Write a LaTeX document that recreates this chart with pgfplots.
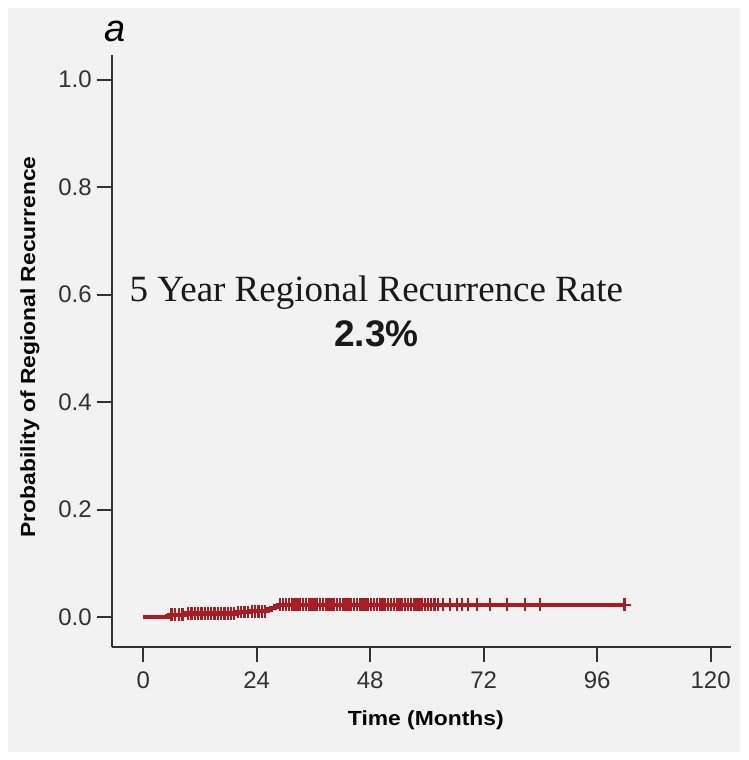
\documentclass[border=0pt]{standalone}
\usepackage{pgfplots}
\pgfplotsset{compat=1.18}
\usepackage{fontspec}
\usepackage{graphicx}
\setmainfont{Liberation Serif}
\setsansfont{Liberation Sans}
\definecolor{panel}{RGB}{242,242,242}
\definecolor{kmred}{RGB}{168,28,34}
\definecolor{axgray}{RGB}{50,50,50}
\begin{document}
\begin{tikzpicture}
\path[use as bounding box, fill=white] (-84pt,-84.75pt) rectangle (477.75pt,485.25pt);
\fill[panel] (-78pt,-78.75pt) rectangle (471pt,479.25pt);
\begin{axis}[
  scale only axis,
  width=464.25pt, height=444pt,
  xmin=-6.6, xmax=124.3,
  ymin=-0.0556, ymax=1.046,
  axis x line=bottom, axis y line=left,
  axis line style={-, axgray, line width=1.3pt},
  tick style={axgray, line width=1.3pt},
  tick align=outside,
  major tick length=11.25pt,
  xtick={0,24,48,72,96,120},
  ytick={0,0.2,0.4,0.6,0.8,1.0},
  yticklabel style={/pgf/number format/fixed, /pgf/number format/fixed zerofill, /pgf/number format/precision=1},
  /pgf/number format/assume math mode=true,
  ticklabel style={font=\sffamily\fontsize{18}{20}\selectfont, text=axgray, inner sep=0pt},
  xticklabel shift=7pt,
  yticklabel shift=3.75pt,
  xlabel={\scalebox{1.12}[1]{Time (Months)}},
  ylabel={\scalebox{1.12}[1]{Probability of Regional Recurrence}},
  label style={font=\sffamily\bfseries\fontsize{15.3}{17}\selectfont},
  xlabel style={at={(axis description cs:0.507,-0.1334)}, anchor=base},
  ylabel style={at={(axis description cs:-0.1325,0.507)}, anchor=center, rotate=0},
  clip=false,
]
\addplot[const plot, kmred, line width=3.2pt] coordinates {
 (0,0) (5.5,0.0045) (9.0,0.0065) (19.5,0.0095) (22.5,0.011) (26.3,0.014)
 (27.0,0.017) (27.8,0.020) (28.6,0.023) (102.0,0.023)
};
\addplot[only marks, mark=+, mark size=4.8pt, kmred, mark options={line width=1.7pt}] coordinates {
 (6.0,0.0045) (6.8,0.0045) (7.5,0.0045) (8.3,0.0045)
 (9.5,0.0065) (10.2,0.0065) (10.9,0.0065) (11.6,0.0065) (12.3,0.0065) (13.0,0.0065)
 (13.7,0.0065) (14.4,0.0065) (15.1,0.0065) (15.8,0.0065) (16.5,0.0065) (17.2,0.0065)
 (17.9,0.0065) (18.6,0.0065) (19.2,0.0065)
 (20.0,0.0095) (20.7,0.0095) (21.4,0.0095) (22.1,0.0095)
 (23.0,0.011) (23.7,0.011) (24.4,0.011) (25.1,0.011) (25.8,0.011)
 (29.0,0.023) (29.6,0.023) (30.2,0.023) (30.8,0.023) (31.4,0.023) (32.0,0.023)
 (32.6,0.023) (33.2,0.023) (33.8,0.023) (34.4,0.023) (35.0,0.023) (35.6,0.023)
 (36.2,0.023) (36.8,0.023) (37.4,0.023) (38.0,0.023) (38.6,0.023) (39.2,0.023)
 (39.8,0.023) (40.4,0.023) (41.0,0.023) (41.6,0.023) (42.2,0.023) (42.8,0.023)
 (43.4,0.023) (44.0,0.023) (44.6,0.023) (45.2,0.023) (45.8,0.023) (46.4,0.023)
 (47.0,0.023) (47.6,0.023) (48.2,0.023) (48.8,0.023) (49.4,0.023) (50.0,0.023)
 (50.6,0.023) (51.2,0.023) (51.8,0.023) (52.4,0.023) (53.0,0.023) (53.6,0.023)
 (54.2,0.023) (54.8,0.023) (55.4,0.023) (56.0,0.023) (56.6,0.023) (57.2,0.023)
 (57.8,0.023) (58.4,0.023) (59.0,0.023) (59.6,0.023) (60.2,0.023)
 (60.9,0.023) (61.6,0.023) (62.4,0.023) (63.4,0.023) (64.9,0.023) (66.4,0.023)
 (67.4,0.023) (68.7,0.023) (70.6,0.023) (73.4,0.023) (77.0,0.023) (80.8,0.023)
 (83.9,0.023) (101.8,0.023)
};
\node[anchor=base, font=\rmfamily\fontsize{27.75}{32}\selectfont, text=black!90] at (axis cs:49.3,0.5866) {5 Year Regional Recurrence Rate};
\node[anchor=base, font=\sffamily\bfseries\fontsize{27.75}{32}\selectfont, text=black!90] at (axis cs:49.3,0.5028) {2.3\%};
\node[anchor=base, font=\sffamily\itshape\fontsize{28.5}{32}\selectfont] at (axis description cs:0.005,1.022) {a};
\end{axis}
\end{tikzpicture}
\end{document}
